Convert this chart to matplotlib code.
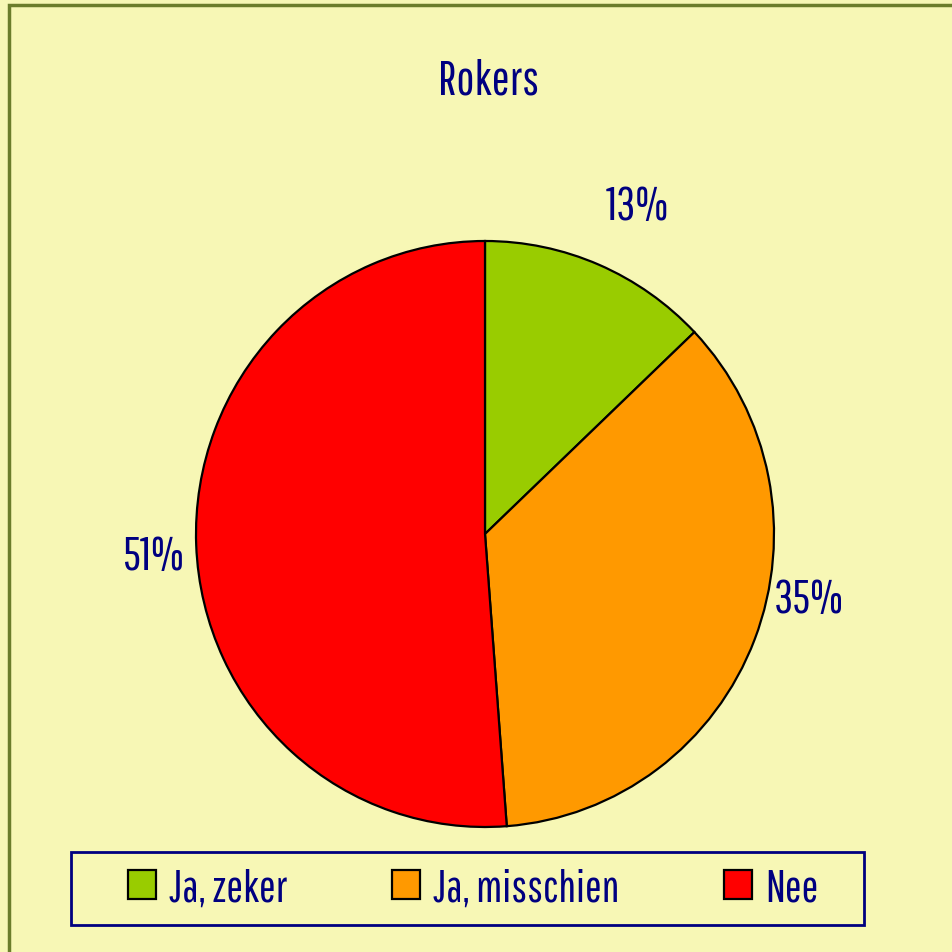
import matplotlib
matplotlib.use("Agg")
import matplotlib.pyplot as plt
from matplotlib.patches import Rectangle
import numpy as np

plt.rcParams['font.family'] = ['Pathway Gothic One', 'DejaVu Sans']

# ---- data ----
title = "Rokers"
categories = ["Ja, zeker", "Ja, misschien", "Nee"]
values = [12.9, 35.9, 51.2]
pct_labels = ["13%", "35%", "51%"]
colors = ["#99cc00", "#ff9900", "#ff0000"]

# ---- style / layout ----
BG = "#f7f7b5"
NAVY = "#000080"
FRAME = "#6b7d2b"
label_radius = [1.24, 1.14, 1.15]
label_angle_shift = [-2.0, 10.0, 1.5]

fig = plt.figure(figsize=(9.53, 9.53), dpi=100, facecolor=BG)

# outer frame (left and top edges visible)
fig.patches.append(Rectangle((9 / 953, -0.1), 1.2, 1 - 6 / 953 + 0.1,
                             transform=fig.transFigure, fill=False,
                             edgecolor=FRAME, linewidth=2.5, zorder=0))

ax = fig.add_axes([196 / 953, 1 - 828 / 953, 578 / 953, 586 / 953])
ax.set_facecolor("none")
wedges, _ = ax.pie(values, colors=colors, startangle=90, counterclock=False,
                   wedgeprops=dict(edgecolor="black", linewidth=1.6),
                   radius=1.0, frame=False)
ax.set_aspect("auto")
ax.set_xlim(-1, 1)
ax.set_ylim(-1, 1)
ax.axis("off")

for w, txt, r, sh in zip(wedges, pct_labels, label_radius, label_angle_shift):
    mid = np.deg2rad((w.theta1 + w.theta2) / 2 + sh)
    ax.text(r * np.cos(mid), r * np.sin(mid), txt, ha="center", va="center",
            fontsize=34, color=NAVY)

fig.text(489 / 953, 1 - 81 / 953, title, ha="center", va="center",
         fontsize=34.5, color=NAVY)

# legend frame
fig.patches.append(Rectangle((71 / 953, 1 - 926 / 953), 793 / 953, 73 / 953,
                             transform=fig.transFigure, facecolor=BG,
                             edgecolor=NAVY, linewidth=2, zorder=1))

leg = fig.legend(wedges, categories, loc="center", ncol=3,
                 bbox_to_anchor=(473 / 953, 1 - 889 / 953),
                 fontsize=32, frameon=False,
                 handlelength=0.63, handleheight=0.63, handletextpad=0.29,
                 columnspacing=2.36, borderaxespad=0, borderpad=0,
                 labelcolor=NAVY)
leg.set_zorder(2)
for h in leg.legend_handles:
    h.set_linewidth(1.6)

fig.savefig("out.png", dpi=100, facecolor=BG)
